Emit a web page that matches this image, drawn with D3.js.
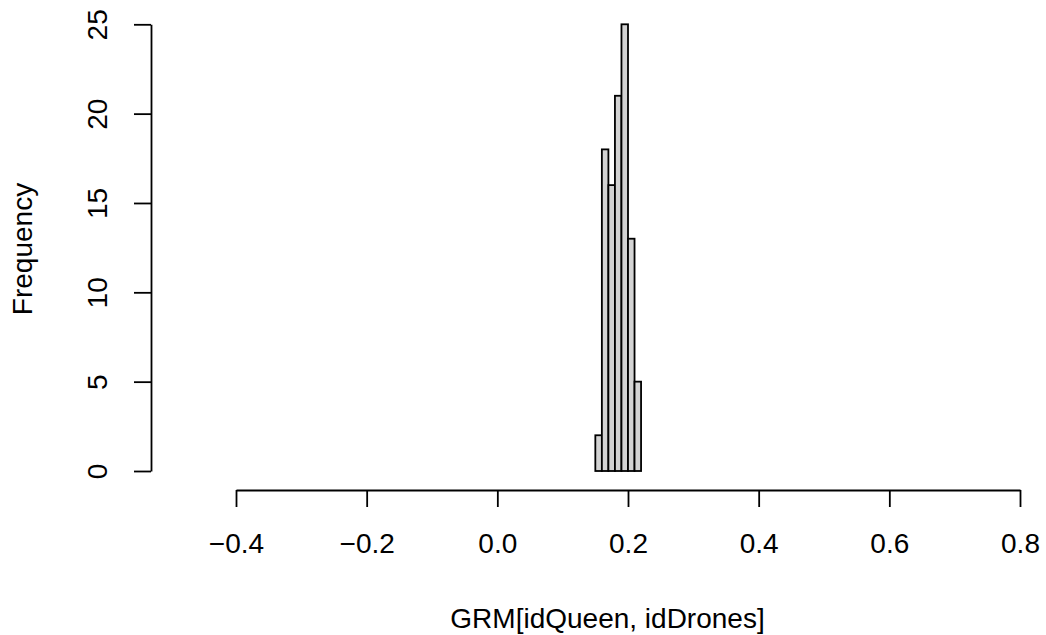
<!DOCTYPE html>
<html>
<head>
<meta charset="utf-8">
<script src="https://cdn.jsdelivr.net/npm/d3@7"></script>
<style>
  body { margin: 0; background: #fff; }
  svg text { font-family: "Liberation Sans", Arial, sans-serif; fill: #000; }
</style>
</head>
<body>
<div id="chart"></div>
<script>
// histogram bins (left edge, right edge) and counts
var binStarts = [0.15, 0.16, 0.17, 0.18, 0.19, 0.20, 0.21];
var binWidth = 0.01;
var counts = [2, 18, 16, 21, 25, 13, 5];

var xTicks = [-0.4, -0.2, 0.0, 0.2, 0.4, 0.6, 0.8];
var yTicks = [0, 5, 10, 15, 20, 25];

var xLabel = "GRM[idQueen, idDrones]";
var yLabel = "Frequency";

var svgWidth = 1046;
var svgHeight = 635;
var fontSize = 28;

var svg = d3.select("#chart")
  .append("svg")
  .attr("width", svgWidth)
  .attr("height", svgHeight);

// scales
var xScale = d3.scaleLinear()
  .domain([-0.4, 0.8])
  .range([236, 1020]);

var yScale = d3.scaleLinear()
  .domain([0, 25])
  .range([471, 24.3]);

// bars
svg.selectAll("rect.bar")
  .data(counts)
  .enter()
  .append("rect")
  .attr("class", "bar")
  .attr("x", (d, i) => xScale(binStarts[i]))
  .attr("width", (d, i) => xScale(binStarts[i] + binWidth) - xScale(binStarts[i]))
  .attr("y", d => yScale(d))
  .attr("height", d => yScale(0) - yScale(d))
  .attr("fill", "#d3d3d3")
  .attr("stroke", "#000")
  .attr("stroke-width", 1.8);

// x axis
var xAxis = d3.axisBottom(xScale)
  .tickValues(xTicks)
  .tickFormat(d3.format(".1f"))
  .tickSize(17)
  .tickSizeOuter(0);

var xg = svg.append("g")
  .attr("transform", "translate(0, 490)")
  .call(xAxis);

xg.select(".domain").attr("stroke-width", 1.8);
xg.selectAll(".tick line").attr("stroke-width", 1.8);
xg.selectAll(".tick text")
  .attr("y", 63)
  .attr("dy", 0)
  .style("font-size", fontSize + "px")
  .style("font-family", "Liberation Sans, Arial, sans-serif");

// y axis
var yAxis = d3.axisLeft(yScale)
  .tickValues(yTicks)
  .tickSize(17)
  .tickSizeOuter(0);

var yg = svg.append("g")
  .attr("transform", "translate(151, 0)")
  .call(yAxis);

yg.select(".domain").attr("stroke-width", 1.8);
yg.selectAll(".tick line").attr("stroke-width", 1.8);
yg.selectAll(".tick text")
  .attr("transform", "rotate(-90)")
  .attr("x", 0)
  .attr("y", -44)
  .attr("dy", 0)
  .attr("text-anchor", "middle")
  .style("font-size", fontSize + "px")
  .style("font-family", "Liberation Sans, Arial, sans-serif");

// axis titles
svg.append("text")
  .attr("x", 607.5)
  .attr("y", 628)
  .attr("text-anchor", "middle")
  .style("font-size", fontSize + "px")
  .text(xLabel);

svg.append("text")
  .attr("transform", "translate(32, 249) rotate(-90)")
  .attr("text-anchor", "middle")
  .style("font-size", fontSize + "px")
  .text(yLabel);
</script>
</body>
</html>
